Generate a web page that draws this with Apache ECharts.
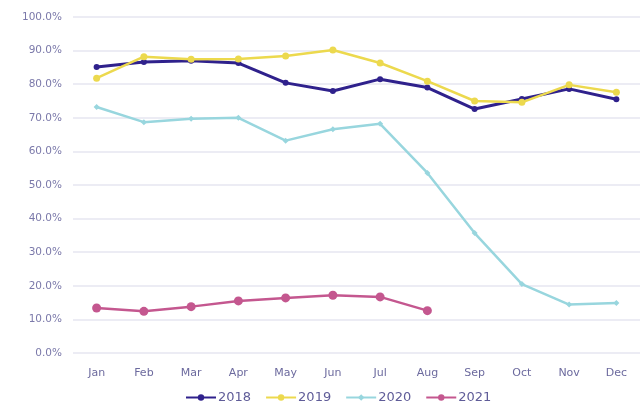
<!DOCTYPE html>
<html>
<head>
<meta charset="UTF-8">
<script src="https://cdn.jsdelivr.net/npm/echarts@6/dist/echarts.min.js"></script>
<style>
  html, body { margin: 0; padding: 0; background: #fff; }
  #chart { width: 640px; height: 412px; }
</style>
</head>
<body>
<div id="chart"></div>
<script>
var months = ['Jan', 'Feb', 'Mar', 'Apr', 'May', 'Jun', 'Jul', 'Aug', 'Sep', 'Oct', 'Nov', 'Dec'];
var y2018 = [85.1, 86.6, 87.0, 86.3, 80.4, 78.0, 81.5, 79.0, 72.6, 75.6, 78.6, 75.5];
var y2019 = [81.8, 88.2, 87.4, 87.5, 88.4, 90.2, 86.3, 80.9, 75.0, 74.6, 79.8, 77.6];
var y2020 = [73.2, 68.7, 69.7, 70.0, 63.2, 66.6, 68.2, 53.6, 35.7, 20.5, 14.4, 14.9];
var y2021 = [13.4, 12.4, 13.8, 15.5, 16.4, 17.2, 16.7, 12.6];

var chart = echarts.init(document.getElementById('chart'));

function line(name, data, color, symbol, size, width) {
    return {
        name: name,
        type: 'line',
        data: data,
        symbol: symbol,
        symbolSize: size,
        lineStyle: { color: color, width: width },
        itemStyle: { color: color },
        z: 3
    };
}

chart.setOption({
    animation: false,
    textStyle: { fontFamily: 'DejaVu Sans' },
    grid: { left: 73, right: -3, top: 17, bottom: 59 },
    legend: {
        bottom: 3,
        left: 180,
        itemWidth: 30,
        itemHeight: 8,
        itemGap: 14,
        textStyle: { color: '#5f5c98', fontSize: 13, padding: [0, 0, 0, -3] },
        data: ['2018', '2019', '2020', '2021']
    },
    xAxis: {
        type: 'category',
        data: months,
        axisLine: { show: false },
        axisTick: { show: false },
        axisLabel: { color: '#6c6a9e', fontSize: 11, margin: 15 }
    },
    yAxis: {
        type: 'value',
        min: 0,
        max: 100,
        interval: 10,
        axisLabel: {
            color: '#7b79aa',
            fontSize: 10.5,
            margin: 11,
            formatter: function (v) { return v.toFixed(1) + '%'; }
        },
        splitLine: { lineStyle: { color: '#e6e6f0', width: 1.5 } }
    },
    series: [
        line('2018', y2018, '#2f218c', 'circle', 6, 3),
        line('2019', y2019, '#ecd94e', 'circle', 7, 2.5),
        line('2020', y2020, '#98d6de', 'diamond', 6, 2.5),
        line('2021', y2021, '#c4578f', 'circle', 9, 2.5)
    ]
});
</script>
</body>
</html>
